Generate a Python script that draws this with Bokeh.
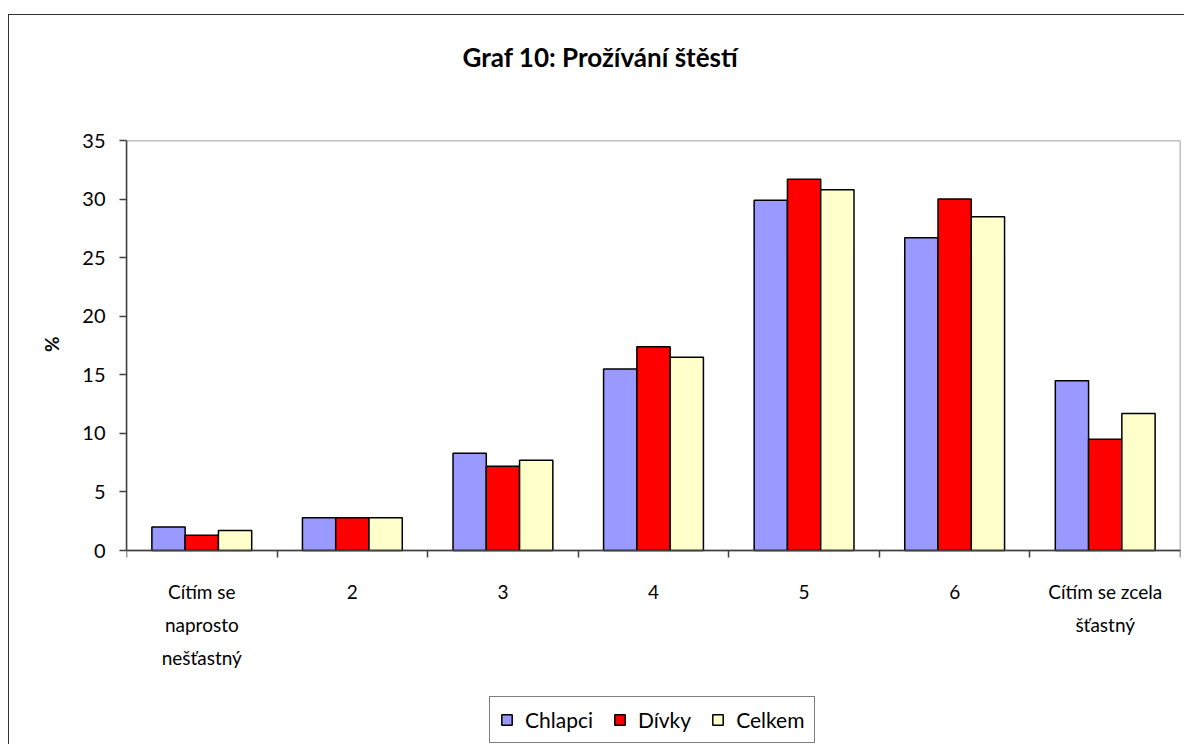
from bokeh.plotting import figure
from bokeh.models import Range1d, FixedTicker, Legend, LegendItem, Title, BoxAnnotation
from bokeh.embed import file_html
from bokeh.resources import INLINE
import numpy as np

categories = ["Cítím se\nnaprosto\nnešťastný", "2", "3", "4", "5", "6", "Cítím se zcela\nšťastný"]
chlapci = [2.0, 2.8, 8.3, 15.5, 29.9, 26.7, 14.5]
divky = [1.3, 2.8, 7.2, 17.4, 31.7, 30.0, 9.5]
celkem = [1.7, 2.8, 7.7, 16.5, 30.8, 28.5, 11.7]
series_names = ["Chlapci", "Dívky", "Celkem"]
colors = ["#9999FF", "#FF0000", "#FFFFCC"]
y_ticks = [0, 5, 10, 15, 20, 25, 30, 35]
title_text = "Graf 10: Prožívání štěstí"
y_label = "%"

FONT = "Lato"
Y_MAX = 35
PLOT_H = 410          # pixel height of the 0..35 value area
EXTRA_H = 194         # room below the value area for category labels and legend
y_min = -Y_MAX * EXTRA_H / PLOT_H

p = figure(frame_width=1054, frame_height=PLOT_H + EXTRA_H,
           x_range=Range1d(0, len(categories)), y_range=Range1d(y_min, Y_MAX),
           output_backend="svg", toolbar_location=None, title=None,
           min_border_left=117, min_border_right=4, min_border_top=125, min_border_bottom=0)
p.styles = {"margin-top": "14px", "margin-left": "8px",
            "border-top": "1px solid #333333", "border-left": "1px solid #333333"}

# inner spacer title (between frame and title), then the real title outside it
p.add_layout(Title(text=" ", text_font=FONT, text_font_size="20px", standoff=37), "above")
p.add_layout(Title(text=title_text, text_font=FONT, text_font_size="26px", text_font_style="bold",
                   text_color="black", align="left", offset=336, standoff=10), "above")

centers = np.arange(len(categories)) + 0.5
bw = 0.221
renderers = []
for i, (vals, c) in enumerate(zip([chlapci, divky, celkem], colors)):
    r = p.vbar(x=centers + (i - 1) * bw, top=vals, width=bw, bottom=0,
               fill_color=c, line_color="black", line_width=1.5)
    renderers.append(r)

p.xgrid.visible = False
p.ygrid.visible = False
p.outline_line_color = None
p.add_layout(BoxAnnotation(left=0, right=len(categories), bottom=0, top=Y_MAX,
                           fill_alpha=0, line_color="#808080", line_alpha=1.0,
                           line_width=1.5, line_dash="solid", level="underlay"))

xa = p.xaxis[0]
xa.fixed_location = 0
xa.ticker = FixedTicker(ticks=list(centers), minor_ticks=list(range(len(categories) + 1)))
xa.major_label_overrides = {float(c): lab for c, lab in zip(centers, categories)}
xa.major_tick_out = 0
xa.major_tick_in = 0
xa.minor_tick_out = 7
xa.minor_tick_in = 0
xa.minor_tick_line_color = "#404040"
xa.minor_tick_line_width = 1.5
xa.axis_line_color = "#404040"
xa.axis_line_width = 1.5
xa.major_label_text_font = FONT
xa.major_label_text_font_size = "19px"
xa.major_label_text_color = "black"
xa.major_label_text_line_height = 1.44
xa.major_label_standoff = 22

ya = p.yaxis[0]
ya.bounds = (0, Y_MAX)
ya.ticker = FixedTicker(ticks=y_ticks)
ya.minor_tick_line_color = None
ya.major_tick_out = 7
ya.major_tick_in = 0
ya.major_tick_line_color = "#404040"
ya.major_tick_line_width = 1.5
ya.axis_line_color = "#404040"
ya.axis_line_width = 1.5
ya.major_label_text_font = FONT
ya.major_label_text_font_size = "20px"
ya.major_label_text_color = "black"
ya.major_label_standoff = 14

# "%" as a side title so it can sit at the middle of the 0..35 value area
p.add_layout(Title(text=y_label, text_font=FONT, text_font_size="19px", text_font_style="bold",
                   text_color="black", align="right", offset=196, standoff=33), "left")

legend = Legend(items=[LegendItem(label=n, renderers=[r]) for n, r in zip(series_names, renderers)],
                location=(363, 1), orientation="horizontal")
legend.label_text_font = FONT
legend.label_text_font_size = "21px"
legend.label_text_color = "black"
legend.glyph_width = 13
legend.glyph_height = 13
legend.label_standoff = 12
legend.spacing = 20
legend.padding = 10
legend.margin = 0
legend.border_line_color = "black"
legend.border_line_width = 1
legend.background_fill_alpha = 1.0
p.add_layout(legend, "center")

open("out.html", "w").write(file_html(p, INLINE))
